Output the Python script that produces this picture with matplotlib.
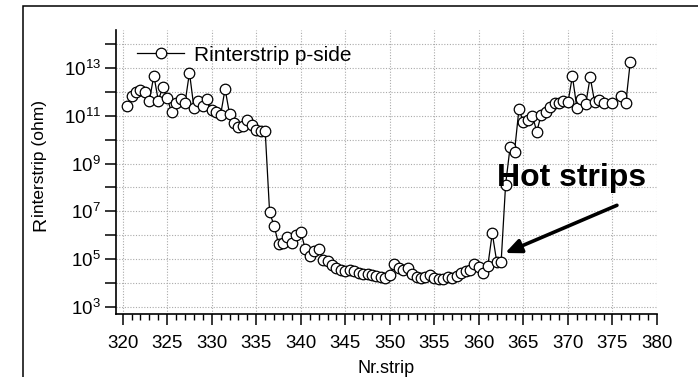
import math
import matplotlib
matplotlib.use("Agg")
import matplotlib.pyplot as plt
import matplotlib.ticker as mticker
from matplotlib.patches import Rectangle

plt.rcParams['font.family'] = ['Liberation Sans', 'DejaVu Sans']
plt.rcParams['mathtext.default'] = 'regular'

# strip position and measured interstrip resistance (ohm)
strip = [320.5, 321.0, 321.5, 322.0, 322.5, 323.0, 323.5, 324.0, 324.5, 325.0,
         325.5, 326.0, 326.5, 327.0, 327.5, 328.0, 328.5, 329.0, 329.5, 330.0,
         330.5, 331.0, 331.5, 332.0, 332.5, 333.0, 333.5, 334.0, 334.5, 335.0,
         335.5, 336.0, 336.5, 337.0, 337.5, 338.0, 338.5, 339.0, 339.5, 340.0,
         340.5, 341.0, 341.5, 342.0, 342.5, 343.0, 343.5, 344.0, 344.5, 345.0,
         345.5, 346.0, 346.5, 347.0, 347.5, 348.0, 348.5, 349.0, 349.5, 350.0,
         350.5, 351.0, 351.5, 352.0, 352.5, 353.0, 353.5, 354.0, 354.5, 355.0,
         355.5, 356.0, 356.5, 357.0, 357.5, 358.0, 358.5, 359.0, 359.5, 360.0,
         360.5, 361.0, 361.5, 362.0, 362.5, 363.0, 363.5, 364.0, 364.5, 365.0,
         365.5, 366.0, 366.5, 367.0, 367.5, 368.0, 368.5, 369.0, 369.5, 370.0,
         370.5, 371.0, 371.5, 372.0, 372.5, 373.0, 373.5, 374.0, 375.0, 376.0,
         376.5, 377.0]

r_interstrip = [2.7e11, 6.6e11, 9.8e11, 1.26e12, 9.8e11, 4.4e11, 4.9e12, 4.4e11, 1.58e12, 5.4e11,
                1.41e11, 3.5e11, 4.9e11, 3.5e11, 6.5e12, 2.2e11, 4.4e11, 2.7e11, 4.9e11, 1.82e11,
                1.41e11, 1.12e11, 1.35e12, 1.2e11, 4.8e10, 3.3e10, 3.9e10, 6.6e10, 4.3e10, 2.6e10,
                2.4e10, 2.4e10, 8.9e6, 2.5e6, 4.3e5, 4.6e5, 8.3e5, 4.6e5, 1.02e6, 1.41e6,
                2.6e5, 1.35e5, 2.2e5, 2.6e5, 9.1e4, 8.3e4, 5.6e4, 4.1e4, 3.5e4, 3.2e4,
                3.5e4, 3.2e4, 2.7e4, 2.3e4, 2.3e4, 2.1e4, 1.95e4, 1.82e4, 1.66e4, 2.1e4,
                6.0e4, 4.1e4, 3.5e4, 4.1e4, 2.3e4, 1.82e4, 1.62e4, 1.78e4, 2.1e4, 1.58e4,
                1.48e4, 1.48e4, 1.74e4, 1.66e4, 1.95e4, 2.5e4, 3.0e4, 3.5e4, 6.2e4, 4.8e4,
                2.5e4, 5.1e4, 1.2e6, 7.8e4, 7.8e4, 1.32e8, 4.8e9, 3.2e9, 1.95e11, 5.4e10,
                6.6e10, 1.02e11, 2.2e10, 1.12e11, 1.41e11, 2.4e11, 3.5e11, 3.3e11, 4.1e11, 3.7e11,
                4.6e12, 2.2e11, 5.1e11, 3.2e11, 4.2e12, 3.7e11, 4.6e11, 3.3e11, 3.5e11, 7.1e11,
                3.5e11, 1.86e13]

series_label = "Rinterstrip p-side"
x_label = "Nr.strip"
annotation_text = "Hot strips"
arrow_tip = (362.95, 10**5.25)
arrow_tail = (375.5, 10**7.25)

W, H = 698, 377
fig = plt.figure(figsize=(W / 100, H / 100), dpi=100)
ax = fig.add_axes([116 / W, 1 - 314 / H, (657 - 116) / W, (314 - 30) / H])

ax.plot(strip, r_interstrip, color='black', linewidth=0.9, marker='o', markersize=7.6,
        markerfacecolor='white', markeredgecolor='black', markeredgewidth=0.9,
        label=series_label, zorder=3)

ax.set_yscale('log')
ax.set_xlim(319.25, 380)
ax.set_ylim(10**2.693, 10**14.6)

ax.xaxis.set_major_locator(mticker.MultipleLocator(5))
ax.xaxis.set_minor_locator(mticker.MultipleLocator(1))
ax.yaxis.set_major_locator(mticker.LogLocator(base=10, numticks=30))
ax.yaxis.set_minor_locator(mticker.NullLocator())


def fmt_decade(v, pos):
    e = int(round(math.log10(v)))
    return r'$\mathdefault{10^{%d}}$' % e if e % 2 == 1 else ''


ax.yaxis.set_major_formatter(mticker.FuncFormatter(fmt_decade))

for side in ('top', 'right'):
    ax.spines[side].set_visible(False)
for side in ('left', 'bottom'):
    ax.spines[side].set_linewidth(1.2)

ax.tick_params(axis='x', which='major', direction='out', length=8, width=1.1,
               labelsize=13.5, pad=7)
ax.tick_params(axis='x', which='minor', direction='out', length=4.5, width=1.0)
ax.tick_params(axis='y', which='major', direction='out', length=8, width=1.1,
               labelsize=13.5, pad=3)

ax.grid(True, which='major', color='#aaaaaa', linestyle=(0, (1, 1.5)), linewidth=0.8)
ax.set_axisbelow(True)

ax.set_xlabel(x_label, fontsize=13, labelpad=6)

# y label: large R followed by the remainder, sharing one baseline
fig.text(45 / W, 1 - 231 / H, "R", rotation=90, rotation_mode='anchor',
         fontsize=14, ha='left', va='baseline')
fig.text(44 / W, 1 - 217 / H, "interstrip (ohm)", rotation=90, rotation_mode='anchor',
         fontsize=12.5, ha='left', va='baseline')

leg = ax.legend(loc='upper left', bbox_to_anchor=(0.038, 0.945), frameon=False,
                fontsize=15, handlelength=2.3, handletextpad=0.45, borderpad=0,
                borderaxespad=0)

ax.annotate("", xy=arrow_tip, xytext=arrow_tail,
            arrowprops=dict(arrowstyle='-|>,head_length=0.95,head_width=0.42',
                            color='black', linewidth=2.6, shrinkA=0, shrinkB=0),
            zorder=4)
ax.text(362.0, 10**8.06, annotation_text, fontsize=23, fontweight='bold',
        ha='left', va='baseline', zorder=5)

# outer frame around the figure
fig.patches.append(Rectangle((22.5 / W, -0.05), (W + 5) / W, 1.05 - 6 / H,
                             transform=fig.transFigure, fill=False,
                             edgecolor='black', linewidth=1.1))

fig.savefig("out.png", dpi=100)
